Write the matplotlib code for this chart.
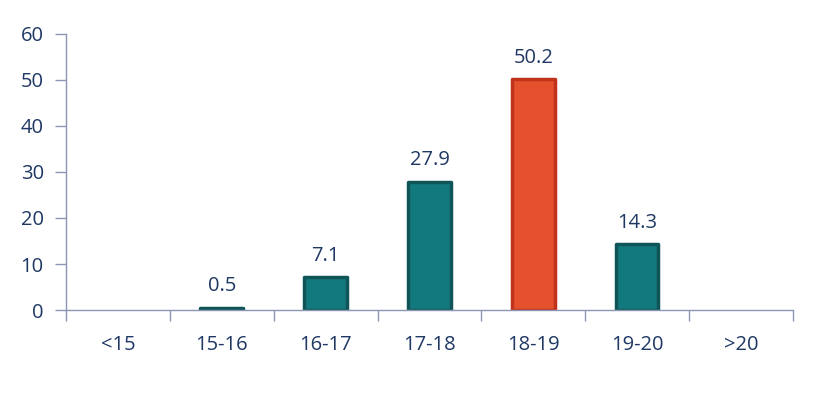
import matplotlib.pyplot as plt
import numpy as np

# data
categories = ['<15', '15-16', '16-17', '17-18', '18-19', '19-20', '>20']
values = [None, 0.5, 7.1, 27.9, 50.2, 14.3, None]
highlight = '18-19'

teal, teal_edge = '#127A7E', '#0F5558'
orange, orange_edge = '#E5502D', '#C0331A'
text_col = '#1F3864'
axis_col = '#8A96B4'

plt.rcParams['font.family'] = ['Open Sans', 'DejaVu Sans']

fig = plt.figure(figsize=(8.22, 3.99), dpi=100)
ax = fig.add_axes([0.0803, 0.223, 0.8844, 0.692])

x = np.arange(len(categories))
for i, (cat, v) in enumerate(zip(categories, values)):
    if v is None:
        continue
    fc, ec = (orange, orange_edge) if cat == highlight else (teal, teal_edge)
    ax.bar(i, v, width=0.41, color=fc, edgecolor=ec, linewidth=2.5,
           joinstyle='round', zorder=3)
    ax.text(i, v + 2.5, f'{v:g}', ha='center', va='bottom',
            fontsize=14.5, color=text_col)

ax.set_xlim(-0.5, len(categories) - 0.5)
ax.set_ylim(0, 60)
ax.set_yticks(range(0, 61, 10))

# category boundaries carry the ticks, labels sit in the middle
ax.set_xticks(np.arange(-0.5, len(categories)), labels=[])
ax.set_xticks(x, labels=categories, minor=True)
ax.tick_params(axis='x', which='major', length=8, width=1, color=axis_col)
ax.tick_params(axis='x', which='minor', length=0, pad=18, labelsize=14.5,
               labelcolor=text_col)
ax.tick_params(axis='y', length=8, width=1, color=axis_col, pad=8,
               labelsize=14.5, labelcolor=text_col)

for s in ['top', 'right']:
    ax.spines[s].set_visible(False)
for s in ['left', 'bottom']:
    ax.spines[s].set_color(axis_col)
    ax.spines[s].set_linewidth(1)
ax.spines['bottom'].set_zorder(4)

fig.savefig('out.png', dpi=100)
